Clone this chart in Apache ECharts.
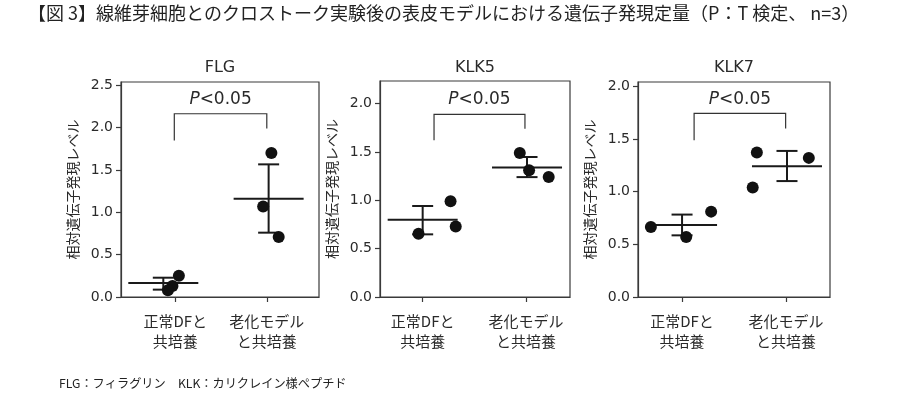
<!DOCTYPE html>
<html>
<head>
<meta charset="utf-8">
<script src="https://cdn.jsdelivr.net/npm/echarts@6/dist/echarts.min.js"></script>
<style>
  html, body { margin: 0; padding: 0; background: #fff; }
  #chart { width: 899px; height: 396px; }
</style>
</head>
<body>
<div id="chart"></div>
<script>
/* ── data ── */
const categories = ['正常DFと\n共培養', '老化モデル\nと共培養']
const panelNames = ['FLG', 'KLK5', 'KLK7']
const yTicksFLG = [0, 0.5, 1.0, 1.5, 2.0, 2.5]
const yTicksKLK = [0, 0.5, 1.0, 1.5, 2.0]

// individual samples (n=3): value and jittered x position per group
const flgValues = [[0.25, 0.13, 0.08], [1.70, 1.07, 0.71]]
const flgPointX = [[0.04, -0.03, -0.08], [1.05, 0.96, 1.13]]
const klk5Values = [[0.655, 0.99, 0.73], [1.49, 1.31, 1.24]]
const klk5PointX = [[-0.04, 0.27, 0.32], [0.94, 1.03, 1.22]]
const klk7Values = [[0.665, 0.57, 0.81], [1.37, 1.04, 1.32]]
const klk7PointX = [[-0.30, 0.04, 0.28], [0.72, 0.68, 1.22]]

// mean ± SD per group
const flgMean = [0.165, 1.16]
const flgLow = [0.087, 0.76]
const flgHigh = [0.228, 1.567]
const flgBarX = [-0.13, 1.02]
const klk5Mean = [0.80, 1.34]
const klk5Low = [0.648, 1.24]
const klk5High = [0.941, 1.448]
const klk5BarX = [0, 1.01]
const klk7Mean = [0.684, 1.24]
const klk7Low = [0.585, 1.10]
const klk7High = [0.782, 1.386]
const klk7BarX = [0, 1.01]

// significance bracket: [xLeft, xRight, yLeftEnd, yRightEnd, yTop, yText]
const flgBracket = [-0.01, 1.0, 1.85, 1.99, 2.165, 2.33]
const klk5Bracket = [0.11, 0.99, 1.62, 1.74, 1.889, 2.04]
const klk7Bracket = [0.116, 0.997, 1.488, 1.599, 1.742, 1.875]

/* ── layout ── */
const CJK = '"Noto Sans CJK JP", sans-serif'
const NUM = '"DejaVu Sans", sans-serif'
const INK = '#2a2a2a'

const panels = [
  { values: flgValues, px: flgPointX, mean: flgMean, low: flgLow, high: flgHigh, bx: flgBarX, br: flgBracket,
    ticks: yTicksFLG, yMax: 2.54, xMin: -0.592, xMax: 1.57, grid: { left: 121, right: 580, top: 82, bottom: 99 }, titleX: 220 },
  { values: klk5Values, px: klk5PointX, mean: klk5Mean, low: klk5Low, high: klk5High, bx: klk5BarX, br: klk5Bracket,
    ticks: yTicksKLK, yMax: 2.234, xMin: -0.413, xMax: 1.426, grid: { left: 380, right: 329, top: 81, bottom: 99 }, titleX: 475 },
  { values: klk7Values, px: klk7PointX, mean: klk7Mean, low: klk7Low, high: klk7High, bx: klk7BarX, br: klk7Bracket,
    ticks: yTicksKLK, yMax: 2.04, xMin: -0.424, xMax: 1.424, grid: { left: 638, right: 69, top: 82, bottom: 99 }, titleX: 734 },
]

function renderErrorBar(params, api) {
  const x = api.value(0)
  const pm = api.coord([x, api.value(1)])
  const plo = api.coord([x, api.value(2)])
  const phi = api.coord([x, api.value(3)])
  const style = { stroke: '#1a1a1a', lineWidth: 2 }
  const half = 35, cap = 10.5
  return {
    type: 'group',
    children: [
      { type: 'line', shape: { x1: pm[0] - half, y1: pm[1], x2: pm[0] + half, y2: pm[1] }, style },
      { type: 'line', shape: { x1: plo[0], y1: plo[1], x2: phi[0], y2: phi[1] }, style },
      { type: 'line', shape: { x1: phi[0] - cap, y1: phi[1], x2: phi[0] + cap, y2: phi[1] }, style },
      { type: 'line', shape: { x1: plo[0] - cap, y1: plo[1], x2: plo[0] + cap, y2: plo[1] }, style },
    ],
  }
}

function renderBracket(params, api) {
  const a = api.coord([api.value(0), api.value(2)])
  const b = api.coord([api.value(0), api.value(4)])
  const c = api.coord([api.value(1), api.value(4)])
  const d = api.coord([api.value(1), api.value(3)])
  const t = api.coord([(api.value(0) + api.value(1)) / 2, api.value(5)])
  return {
    type: 'group',
    children: [
      { type: 'polyline', shape: { points: [a, b, c, d] }, style: { stroke: '#333', lineWidth: 1.2, fill: 'none' } },
      { type: 'text', x: t[0], y: t[1],
        style: { text: '{i|P}<0.05', fontFamily: NUM, fontSize: 17, fill: INK, align: 'center', verticalAlign: 'middle',
                 rich: { i: { fontFamily: NUM, fontSize: 17, fontStyle: 'italic', fill: INK } } } },
    ],
  }
}

const grids = [], xAxes = [], yAxes = [], series = []
const titles = [
  { text: '【図 3】線維芽細胞とのクロストーク実験後の表皮モデルにおける遺伝子発現定量（P：T 検定、 n=3）',
    left: 28, top: 4, padding: 0,
    textStyle: { fontFamily: CJK, fontSize: 18, fontWeight: 'normal', color: '#222' } },
  { text: 'FLG：フィラグリン　KLK：カリクレイン様ペプチド', left: 59, top: 377, padding: 0,
    textStyle: { fontFamily: CJK, fontSize: 12.2, fontWeight: 'normal', color: '#222' } },
]

panels.forEach((p, i) => {
  grids.push({ ...p.grid, show: true, borderColor: '#3a3a3a', borderWidth: 1.2, backgroundColor: 'transparent' })
  titles.push({ text: panelNames[i], left: p.titleX, top: 60, padding: 0, textAlign: 'center',
    textStyle: { fontFamily: NUM, fontSize: 16, fontWeight: 'normal', color: INK } })
  xAxes.push({
    gridIndex: i, type: 'value', min: p.xMin, max: p.xMax,
    axisLine: { show: true, onZero: false, lineStyle: { color: '#3a3a3a', width: 1.2 } },
    axisTick: { show: true, customValues: [0, 1], length: 5, lineStyle: { color: '#3a3a3a', width: 1.2 } },
    axisLabel: { customValues: [0, 1], formatter: (v) => categories[Math.round(v)],
      fontFamily: CJK, fontSize: 15, lineHeight: 20, margin: 14, color: INK },
    splitLine: { show: false },
  })
  yAxes.push({
    gridIndex: i, type: 'value', min: 0, max: p.yMax,
    axisLine: { show: true, onZero: false, lineStyle: { color: '#3a3a3a', width: 1.2 } },
    axisTick: { show: true, customValues: p.ticks, length: 5, lineStyle: { color: '#3a3a3a', width: 1.2 } },
    axisLabel: { customValues: p.ticks, formatter: (v) => v.toFixed(1), fontFamily: NUM, fontSize: 14, margin: 8, color: INK },
    splitLine: { show: false },
    name: '相対遺伝子発現レベル', nameLocation: 'middle', nameRotate: 90, nameGap: 41,
    nameTextStyle: { fontFamily: CJK, fontSize: 14, color: INK },
  })
  series.push({
    type: 'custom', xAxisIndex: i, yAxisIndex: i, z: 2, silent: true,
    renderItem: renderErrorBar,
    data: p.mean.map((m, g) => [p.bx[g], m, p.low[g], p.high[g]]),
  })
  series.push({
    type: 'custom', xAxisIndex: i, yAxisIndex: i, z: 2, silent: true, clip: false,
    renderItem: renderBracket,
    data: [p.br],
  })
  const pts = []
  p.values.forEach((grp, g) => grp.forEach((v, k) => pts.push([p.px[g][k], v])))
  series.push({
    type: 'scatter', xAxisIndex: i, yAxisIndex: i, z: 3, silent: true,
    symbol: 'circle', symbolSize: 12, itemStyle: { color: '#111', opacity: 1 },
    data: pts,
  })
})

const chart = echarts.init(document.getElementById('chart'))
chart.setOption({
  animation: false,
  backgroundColor: '#fff',
  title: titles,
  grid: grids,
  xAxis: xAxes,
  yAxis: yAxes,
  series,
})
</script>
</body>
</html>
